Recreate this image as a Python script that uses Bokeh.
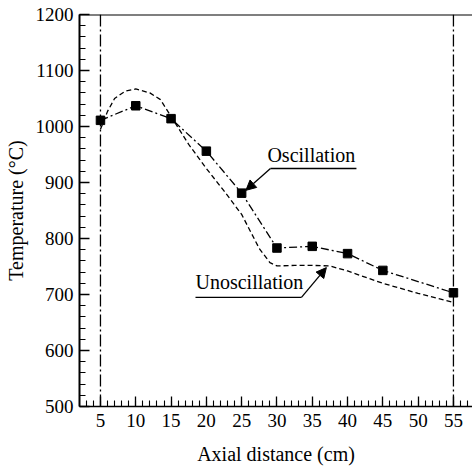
from bokeh.plotting import figure
from bokeh.models import (Range1d, SingleIntervalTicker, Span, Arrow, NormalHead,
                          Label)
from bokeh.embed import file_html
from bokeh.resources import INLINE

# ---- data ----
osc_x = [5, 10, 15, 20, 25, 30, 35, 40, 45, 55]
osc_y = [1011, 1037, 1014, 956, 881, 783, 786, 773, 743, 703]

unosc_x = [5, 6, 7, 8.5, 10, 12, 13.5, 15, 17.5, 20, 22.5, 25, 27.5, 29, 30,
           32.5, 35, 37.5, 40, 45, 50, 55]
unosc_y = [995, 1027, 1050, 1063, 1067, 1060, 1048, 1018, 968, 925, 885, 843,
           782, 757, 751, 752, 752, 751, 742, 720, 702, 686]

boundary_x = [5, 55]
x_label = "Axial distance (cm)"
y_label = "Temperature (°C)"

FONT = "Liberation Serif"

p = figure(width=472, height=469, output_backend="svg", toolbar_location=None,
           x_range=Range1d(2.03, 57.7), y_range=Range1d(500, 1200),
           min_border_left=79, min_border_right=0, min_border_top=14,
           min_border_bottom=63)
p.outline_line_color = None
p.grid.visible = False
p.background_fill_color = "white"
p.border_fill_color = "white"

# axes
p.xaxis.ticker = SingleIntervalTicker(interval=5, num_minor_ticks=5)
p.yaxis.ticker = SingleIntervalTicker(interval=100, num_minor_ticks=5)
for ax in (p.xaxis, p.yaxis):
    ax.major_tick_in = 10
    ax.major_tick_out = 0
    ax.minor_tick_in = 6
    ax.minor_tick_out = 0
    ax.axis_line_color = "black"
    ax.major_tick_line_color = "black"
    ax.minor_tick_line_color = "black"
    ax.major_tick_line_width = 1.3
    ax.minor_tick_line_width = 1.1
    ax.major_label_text_font = FONT
    ax.major_label_text_font_size = "19px"
    ax.major_label_text_color = "black"
    ax.axis_label_text_font = FONT
    ax.axis_label_text_font_size = "20px"
    ax.axis_label_text_font_style = "normal"
    ax.axis_label_text_color = "black"
p.yaxis.axis_line_width = 2
p.xaxis.axis_line_width = 1.6
p.xaxis.axis_label = x_label
p.yaxis.axis_label = y_label
p.xaxis.major_label_standoff = 7
p.yaxis.major_label_standoff = 6
p.xaxis.axis_label_standoff = 13
p.yaxis.axis_label_standoff = 6

# top border
p.add_layout(Span(location=1200, dimension="width", line_color="black", line_width=2))

# boundary dash-dot verticals
for bx in boundary_x:
    p.add_layout(Span(location=bx, dimension="height", line_color="black",
                      line_width=1.3, line_dash="12 3 2 3"))

# curves
p.line(unosc_x, unosc_y, line_color="black", line_width=1.3, line_dash="5 3")
p.line(osc_x, osc_y, line_color="black", line_width=1.3, line_dash="8 3 2 3")
p.scatter(osc_x, osc_y, marker="square", size=8.5, fill_color="black",
          line_color="black")

# annotations
p.add_layout(Label(x=28.65, y=930, text="Oscillation", text_font=FONT,
                   text_font_size="20px", text_color="black"))
p.segment(x0=[29.08], y0=[925], x1=[41.26], y1=[925], line_color="black", line_width=1.3)
p.add_layout(Arrow(x_start=29.08, y_start=925, x_end=25.6, y_end=886,
                   line_color="black", line_width=1.3,
                   end=NormalHead(size=10, fill_color="black", line_color="black")))

p.add_layout(Label(x=18.46, y=702, text="Unoscillation", text_font=FONT,
                   text_font_size="20px", text_color="black"))
p.segment(x0=[18.46], y0=[695], x1=[33.47], y1=[695], line_color="black", line_width=1.3)
p.add_layout(Arrow(x_start=33.47, y_start=695, x_end=37.0, y_end=748,
                   line_color="black", line_width=1.3,
                   end=NormalHead(size=10, fill_color="black", line_color="black")))

open("out.html", "w").write(file_html(p, INLINE))
